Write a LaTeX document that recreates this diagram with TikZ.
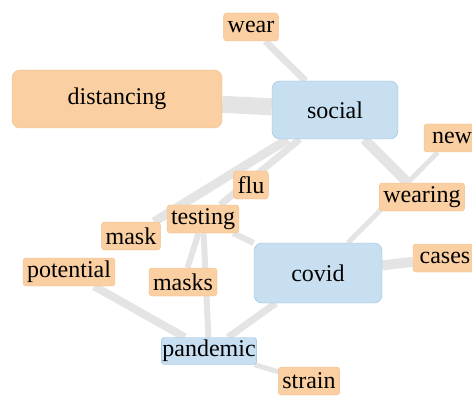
\documentclass[tikz,border=0pt]{standalone}
\usepackage{fontspec}
\setmainfont{Liberation Serif}
\usetikzlibrary{backgrounds}
\definecolor{wordfill}{RGB}{250,207,162}
\definecolor{wordline}{RGB}{243,190,140}
\definecolor{hubfill}{RGB}{199,223,240}
\definecolor{hubline}{RGB}{150,190,222}
\definecolor{linkgray}{RGB}{228,228,228}

\begin{document}
\begin{tikzpicture}[
  x=1pt,y=-1pt,
  word/.style={draw=wordline,fill=wordfill,rounded corners=3pt,inner xsep=4pt,inner ysep=2pt,
    minimum height=28pt,font=\fontsize{24}{26}\selectfont},
  hub/.style={word,draw=hubline,fill=hubfill},
  big/.style={rounded corners=8pt,minimum height=58pt},
  link/.style={draw=linkgray,line width=#1},
  link/.default=7pt
]
\useasboundingbox (0,0) rectangle (472,396);
\node[word] (wear) at (251,27) {wear};
\node[word,big,minimum width=210pt] (distancing) at (117,99) {distancing};
\node[hub,big,minimum width=126pt] (social) at (335,110) {social};
\node[word,minimum width=56pt] (new) at (452,138) {new};
\node[word] (flu) at (251,185) {flu};
\node[word] (wearing) at (422,197) {wearing};
\node[word] (testing) at (203,219) {testing};
\node[word] (mask) at (131,236) {mask};
\node[word] (potential) at (69,272) {potential};
\node[word] (masks) at (183,282) {masks};
\node[hub,big,minimum width=128pt,minimum height=60pt] (covid) at (318,273) {covid};
\node[word,minimum width=64pt] (cases) at (445,258) {cases};
\node[hub,inner xsep=1pt,minimum height=27pt] (pandemic) at (209,351) {pandemic};
\node[word] (strain) at (309,381) {strain};
\begin{scope}[on background layer]
\draw[link] (wear) -- (social);
\draw[link=17pt] (distancing) -- (social);
\draw[link=10pt] (social) -- (wearing);
\draw[link=9pt] (social) -- (mask);
\draw[link] (social) -- (testing);
\draw[link=5pt] (new) -- (covid);
\draw[link=6pt] (testing) -- (covid);
\draw[link=6pt] (testing) -- (masks);
\draw[link=6pt] (testing) -- (pandemic);
\draw[link=8pt] (potential) -- (pandemic);
\draw[link] (covid) -- (pandemic);
\draw[link=10pt] (covid) -- (cases);
\draw[link=5pt] (pandemic) -- (strain);
\end{scope}
\end{tikzpicture}
\end{document}
